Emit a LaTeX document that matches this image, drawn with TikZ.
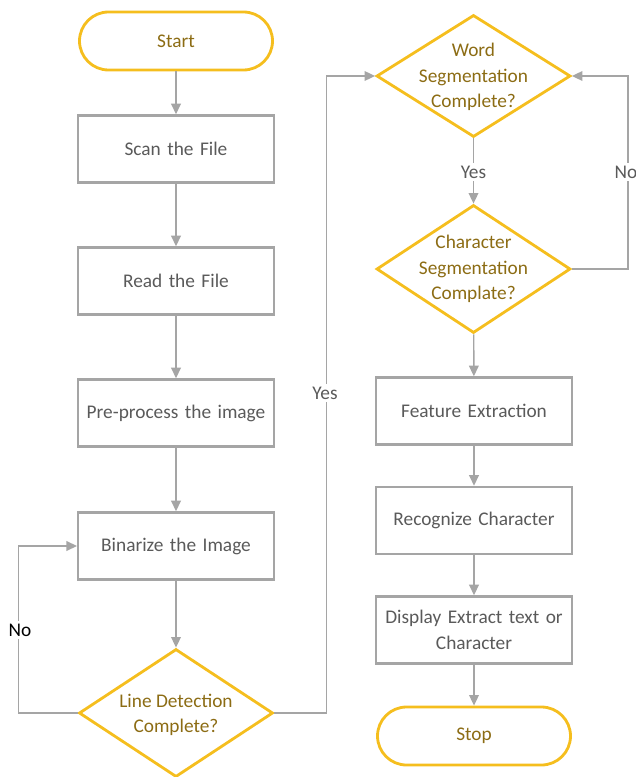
\documentclass[tikz,border=0pt]{standalone}
\usepackage{fontspec}
\setmainfont{Carlito}
\usetikzlibrary{shapes,arrows.meta,positioning,calc}
\definecolor{goldcolor}{RGB}{245,190,30}
\definecolor{goldtext}{RGB}{140,108,20}
\definecolor{greycolor}{RGB}{165,165,165}
\definecolor{greytext}{RGB}{90,90,90}

\begin{document}
\begin{tikzpicture}[
  font=\fontsize{11}{14.5}\selectfont,
  step box/.style={
    draw=greycolor,
    line width=1.4pt,
    fill=white,
    minimum width=3.88cm,
    minimum height=1.34cm,
    inner sep=1pt,
    text width=3.84cm,
    align=center,
    text=greytext
  },
  terminal/.style={
    draw=goldcolor,
    line width=1.6pt,
    rounded corners=0.58cm,
    minimum width=3.86cm,
    minimum height=1.16cm,
    text=goldtext
  },
  decision/.style={
    diamond,
    draw=goldcolor,
    line width=1.6pt,
    inner sep=0pt,
    minimum width=3.88cm,
    minimum height=#1
  },
  dectext/.style={align=center, text=goldtext},
  flow/.style={draw=greycolor, line width=0.8pt, -{Triangle[length=6pt,width=5.5pt]}},
  lbl/.style={fill=white, inner sep=1.5pt, text=greytext}
]
\useasboundingbox (0,0) rectangle (12.7,-15.54);

% Left column
\node[terminal] (start) at (3.52,-0.82) {Start};
\node[step box] (scan) at (3.52,-2.98) {Scan the File};
\node[step box] (read) at (3.52,-5.62) {Read the File};
\node[step box] (prep) at (3.52,-8.26) {Pre-process the image};
\node[step box] (binar) at (3.52,-10.92) {Binarize the Image};
\node[decision=2.56cm] (linedet) at (3.52,-14.26) {};
\node[dectext] (linetxt) at (3.52,-14.3) {Line Detection\\Complete?};

% Right column
\node[decision=2.44cm] (word) at (9.47,-1.52) {};
\node[dectext] (wordtxt) at (9.47,-1.54) {Word\\Segmentation\\Complete?};
\node[decision=2.56cm] (charseg) at (9.47,-5.38) {};
\node[dectext] (chartxt) at (9.47,-5.38) {Character\\Segmentation\\Complate?};
\node[step box] (feat) at (9.48,-8.22) {Feature Extraction};
\node[step box] (recog) at (9.48,-10.41) {Recognize Character};
\node[step box] (disp) at (9.48,-12.6) {Display Extract text or\\Character};
\node[terminal] (stop) at (9.48,-14.72) {Stop};

% Straight arrows
\draw[flow] (start) -- (scan);
\draw[flow] (scan) -- (read);
\draw[flow] (read) -- (prep);
\draw[flow] (prep) -- (binar);
\draw[flow] (binar) -- (linedet);
\draw[flow] (word) -- (charseg);
\draw[flow] (charseg) -- (feat);
\draw[flow] (feat) -- (recog);
\draw[flow] (recog) -- (disp);
\draw[flow] (disp) -- (stop);

% Loops
\draw[flow] (linedet.west) -- ++(-1.18,0) |- (binar.west);
\draw[flow] (linedet.east) -- ++(1.04,0) |- (word.west);
\draw[flow] (charseg.east) -- ++(1.12,0) |- (word.east);

% Labels
\node[lbl, text=black] (nolow) at (0.40,-12.6) {No};
\node[lbl] (yesmid) at (6.5,-7.86) {Yes};
\node[lbl] (yestop) at (9.47,-3.44) {Yes};
\node[lbl] (notop) at (12.52,-3.44) {No};

\end{tikzpicture}
\end{document}
